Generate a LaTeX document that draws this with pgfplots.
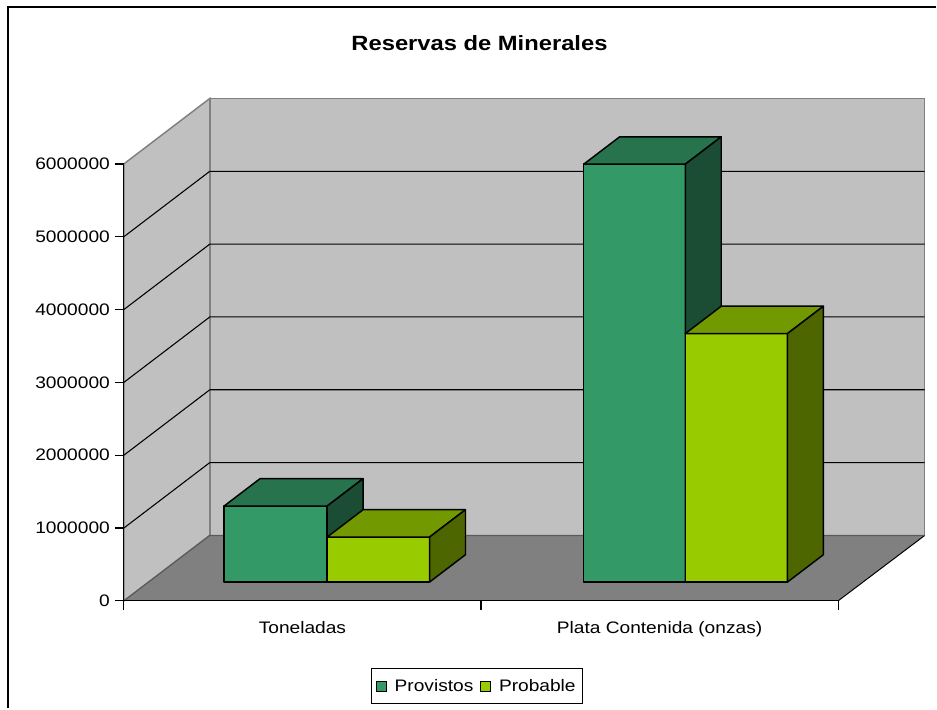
\documentclass[border=0pt]{standalone}
\usepackage{fontspec}
\setmainfont{Liberation Sans}[FakeStretch=1.15]
\usepackage{pgfplots}
\pgfplotsset{compat=1.18}
\definecolor{provF}{HTML}{339966}
\definecolor{provT}{HTML}{26734D}
\definecolor{provS}{HTML}{1A4D33}
\definecolor{probF}{HTML}{99CC00}
\definecolor{probT}{HTML}{739900}
\definecolor{probS}{HTML}{4D6600}
\definecolor{wallgray}{HTML}{C0C0C0}
\definecolor{floorgray}{HTML}{808080}
\definecolor{edgegray}{HTML}{808080}
% 3D bar: #1 left x, #2 right x, #3 value (millions), #4 colour prefix
\newcommand\barthreed[4]{%
  \pgfmathsetmacro\ytop{0.258+#3}%
  \pgfmathsetmacro\ytopb{\ytop+0.376}%
  \pgfmathsetmacro\xlb{#1+36}%
  \pgfmathsetmacro\xrb{#2+36}%
  \addplot[fill=#4F, draw=black, line width=1.1pt, line join=round, forget plot] coordinates {(#1,0.258) (#2,0.258) (#2,\ytop) (#1,\ytop)} -- cycle;
  \addplot[fill=#4T, draw=black, line width=1.1pt, line join=round, forget plot] coordinates {(#1,\ytop) (#2,\ytop) (\xrb,\ytopb) (\xlb,\ytopb)} -- cycle;
  \addplot[fill=#4S, draw=black, line width=1.1pt, line join=round, forget plot] coordinates {(#2,0.258) (\xrb,0.634) (\xrb,\ytopb) (#2,\ytop)} -- cycle;
}
\begin{document}
\begin{tikzpicture}
\begin{axis}[
  x=0.75pt, y=54.675pt,
  xmin=124, xmax=839, ymin=0, ymax=6,
  enlargelimits=false,
  clip=false,
  axis on top,
  axis x line*=bottom, axis y line*=left,
  axis line style={black, line width=0.9pt},
  tick align=outside,
  tick style={black, line width=0.9pt},
  major tick length=7pt,
  ytick={0,1,2,3,4,5,6},
  yticklabels={0,1000000,2000000,3000000,4000000,5000000,6000000},
  xtick={124,481.5,839},
  xticklabels={},
  extra x ticks={302.75,660.25},
  extra x tick labels={Toneladas,Plata Contenida (onzas)},
  extra x tick style={major tick length=0pt},
  xticklabel style={yshift=-12pt},
  ticklabel style={font=\fontsize{12.5}{15}\selectfont},
  /pgf/number format/assume math mode=true,
  legend columns=2,
  legend style={at={(axis cs:477.5,-1.1728)}, anchor=center, draw=black, line width=0.75pt,
    font=\fontsize{12.5}{15}\selectfont, inner xsep=3pt, inner ysep=6pt,
    /tikz/every even column/.append style={column sep=3pt},
    /tikz/every odd column/.append style={column sep=4pt}},
  legend image code/.code={\draw[#1] (0pt,-3.75pt) rectangle (7.5pt,3.75pt);},
]
% page extent
\path (axis cs:0,-1.4746) rectangle (axis cs:937,8.2510);
% walls and floor
\addplot[fill=wallgray, draw=edgegray, line width=1.1pt, forget plot] coordinates {(210,0.8985) (925.7,0.8985) (925.7,6.8985) (210,6.8985)} -- cycle;
\addplot[fill=wallgray, draw=edgegray, line width=1.1pt, forget plot] coordinates {(124,0) (210,0.8985) (210,6.8985) (124,6)} -- cycle;
\addplot[fill=floorgray, draw=none, forget plot] coordinates {(124,0) (839,0) (925.7,0.8985) (210,0.8985)} -- cycle;
\addplot[black, line width=0.75pt, forget plot] coordinates {(839,0) (925.7,0.8985)};
\addplot[edgegray!70!black, line width=0.9pt, forget plot] coordinates {(124,0) (210,0.8985) (925.7,0.8985)};
% gridlines
\addplot[black, line width=0.8pt, forget plot] coordinates {(124,1) (210,1.8985) (925.7,1.8985)};
\addplot[black, line width=0.8pt, forget plot] coordinates {(124,2) (210,2.8985) (925.7,2.8985)};
\addplot[black, line width=0.8pt, forget plot] coordinates {(124,3) (210,3.8985) (925.7,3.8985)};
\addplot[black, line width=0.8pt, forget plot] coordinates {(124,4) (210,4.8985) (925.7,4.8985)};
\addplot[black, line width=0.8pt, forget plot] coordinates {(124,5) (210,5.8985) (925.7,5.8985)};
% bars (values in millions)
\barthreed{224.3}{327.5}{1.044}{prov}
\barthreed{327.5}{430}{0.618}{prob}
\barthreed{584.3}{686}{5.738}{prov}
\barthreed{686}{788.3}{3.412}{prob}
% legend
\addlegendimage{fill=provF, draw=black, line width=0.75pt}
\addlegendentry{Provistos}
\addlegendimage{fill=probF, draw=black, line width=0.75pt}
\addlegendentry{Probable}
% title and frame
\node[font=\fontsize{15.5}{18}\selectfont\bfseries] at (axis cs:480,7.6612) {Reservas de Minerales};
\draw[black, line width=1.5pt] (axis cs:8,-1.4746) -- (axis cs:8,8.1550) -- (axis cs:937,8.1550);
\end{axis}
\end{tikzpicture}
\end{document}
